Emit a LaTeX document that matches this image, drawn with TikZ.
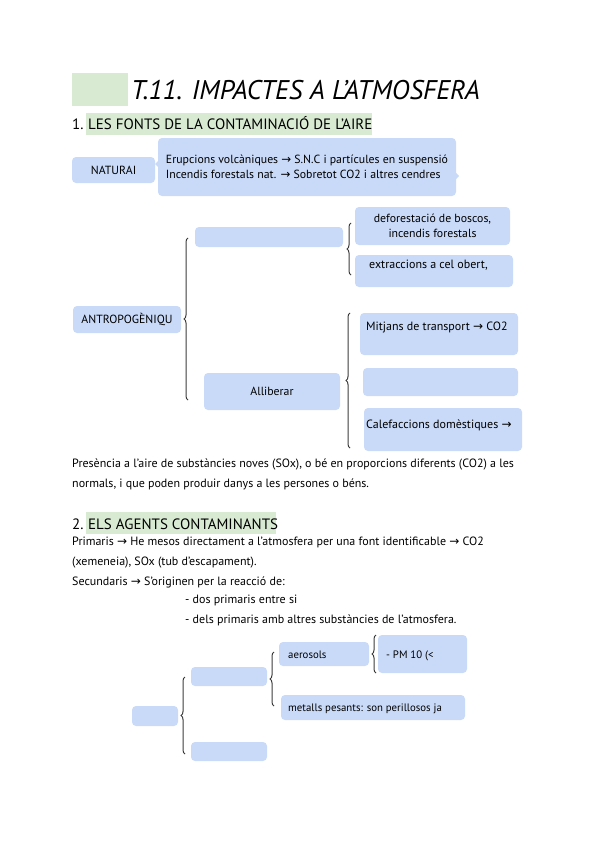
\documentclass[tikz,border=0pt]{standalone}
\usepackage{fontspec}
\setmainfont{PT Sans}
\newfontfamily\arrowfont{DejaVu Sans}
\usetikzlibrary{positioning, decorations.pathreplacing}
\definecolor{boxblue}{HTML}{C9DAF8}
\definecolor{markgreen}{HTML}{D9EAD3}
\definecolor{bracegray}{HTML}{3C3C3C}
\newcommand{\arr}{{\arrowfont\char"2192}}

\begin{document}
\begin{tikzpicture}[x=1pt, y=-1pt,
    box/.style={fill=boxblue, rounded corners=4pt, inner sep=0pt, font=\fontsize{11.8}{15}\selectfont},
    txt/.style={inner sep=0pt, anchor=base west, font=\fontsize{12}{15}\selectfont},
    small/.style={font=\fontsize{10.8}{14}\selectfont},
    greenmark/.style={fill=markgreen, inner sep=0pt},
    curly/.style={draw=bracegray, line width=1pt, decorate, decoration={brace, amplitude=4pt}}]
    \useasboundingbox[fill=white] (0,0) rectangle (599,848);

    % Title
    \node[greenmark, minimum width=56pt, minimum height=33pt] (titlemark) at (100,89.5) {};
    \node[txt, font=\fontsize{27}{27}\selectfont\itshape] (title) at (131,100) {T.11. IMPACTES A L'ATMOSFERA};

    % Section 1
    \node[greenmark, minimum width=286pt, minimum height=22pt] (headmark1) at (229,124) {};
    \node[txt, font=\fontsize{15}{15}\selectfont] (num1) at (72,130) {1.};
    \node[txt, font=\fontsize{15}{15}\selectfont] (head1) at (88,130) {LES FONTS DE LA CONTAMINACIÓ DE L'AIRE};

    % Natural sources
    \node[box, minimum width=83pt, minimum height=26pt] (natural) at (113.5,170) {NATURAI};
    \fill[boxblue] (159,160) -- (155,164) -- (159,168) -- cycle;
    \fill[boxblue] (455,172) -- (459,176) -- (455,180) -- cycle;
    \node[box, minimum width=298pt, minimum height=58pt, align=left] (natbox) at (307,167)
        {Erupcions volcàniques \arr{} S.N.C i partícules en suspensió\\
         Incendis forestals nat. \arr{} Sobretot CO2 i altres cendres};

    % Anthropogenic sources
    \node[box, minimum width=108pt, minimum height=27pt] (antro) at (127,319.5) {ANTROPOGÈNIQU};
    \draw[curly] (188,400) -- (188,238);

    \node[box, minimum width=148pt, minimum height=20pt] (destruir) at (269,237) {};
    \draw[curly] (351,275) -- (351,223);
    \node[box, minimum width=155pt, minimum height=38pt, align=center] (defor) at (432.5,226)
        {deforestació de boscos,\\ incendis forestals};
    \node[box, minimum width=158pt, minimum height=32pt] (extr) at (434,271) {};
    \node[txt] (extrtxt) at (369,268) {extraccions a cel obert,};

    \node[box, minimum width=136pt, minimum height=37pt] (alliberar) at (272,391.5) {Alliberar};
    \draw[curly] (350,448) -- (350,313);
    \node[box, minimum width=158pt, minimum height=42pt] (transport) at (439,334) {};
    \node[txt] (transtxt) at (366,330) {Mitjans de transport \arr{} CO2};
    \node[box, minimum width=155pt, minimum height=28pt] (industria) at (440.5,382) {};
    \node[box, minimum width=158pt, minimum height=43pt] (calef) at (443,429.5) {};
    \node[txt] (caleftxt) at (366,428) {Calefaccions domèstiques \arr};

    % Definition
    \node[txt] (def1) at (72,467) {Presència a l'aire de substàncies noves (SOx), o bé en proporcions diferents (CO2) a les};
    \node[txt] (def2) at (72,487) {normals, i que poden produir danys a les persones o béns.};

    % Section 2
    \node[greenmark, minimum width=190pt, minimum height=22pt] (headmark2) at (181,523) {};
    \node[txt, font=\fontsize{15}{15}\selectfont] (num2) at (72,529) {2.};
    \node[txt, font=\fontsize{15}{15}\selectfont] (head2) at (88,529) {ELS AGENTS CONTAMINANTS};

    \node[txt] (prim1) at (72,545) {Primaris \arr{} He mesos directament a l'atmosfera per una font identificable \arr{} CO2};
    \node[txt] (prim2) at (72,565) {(xemeneia), SOx (tub d'escapament).};
    \node[txt] (sec) at (72,585) {Secundaris \arr{} S'originen per la reacció de:};
    \node[txt] (sec1) at (185,603) {- dos primaris entre si};
    \node[txt] (sec2) at (185,623) {- dels primaris amb altres substàncies de l'atmosfera.};

    % Agents tree
    \node[box, minimum width=46pt, minimum height=20pt] (agents) at (155,716) {};
    \draw[curly] (185,754) -- (185,677);
    \node[box, minimum width=76pt, minimum height=19pt] (partic) at (229,676.5) {};
    \node[box, minimum width=76pt, minimum height=19pt] (gasos) at (229,751.5) {};
    \draw[curly] (274,706) -- (274,652);
    \node[box, minimum width=90pt, minimum height=24pt] (aerosols) at (324,654) {};
    \node[txt, small] (aerotxt) at (288,658) {aerosols};
    \node[box, minimum width=184pt, minimum height=25pt] (metalls) at (373,707.5) {};
    \node[txt, small] (metalltxt) at (288,711) {metalls pesants: son perillosos ja};
    \draw[curly] (376,673) -- (376,635);
    \node[box, minimum width=89pt, minimum height=38pt] (pm) at (422.5,654) {};
    \node[txt, small] (pmtxt) at (386,658) {- PM 10 (<};
\end{tikzpicture}
\end{document}
